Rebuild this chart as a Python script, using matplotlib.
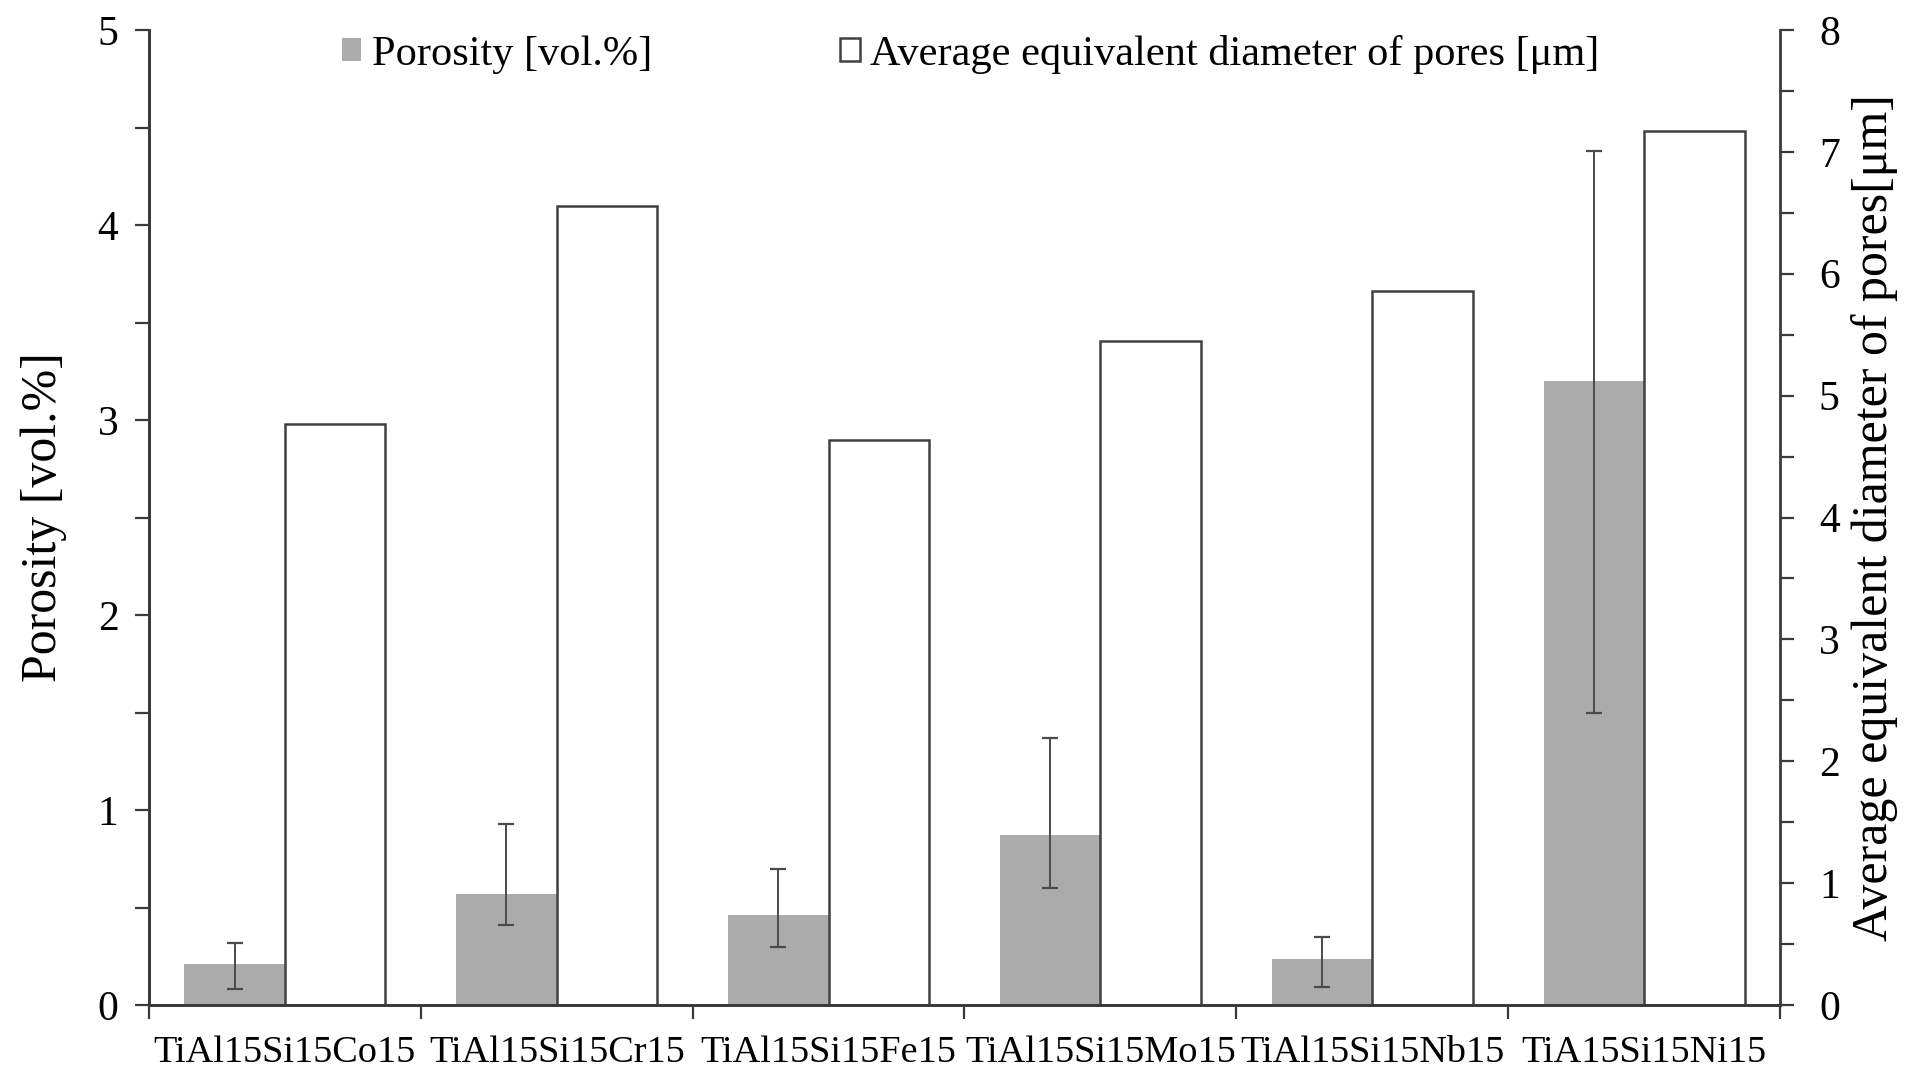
import matplotlib
matplotlib.use("Agg")
import matplotlib.pyplot as plt
from matplotlib.ticker import MultipleLocator
import numpy as np

categories = ["TiAl15Si15Co15", "TiAl15Si15Cr15", "TiAl15Si15Fe15",
              "TiAl15Si15Mo15", "TiAl15Si15Nb15", "TiA15Si15Ni15"]
porosity = [0.21, 0.57, 0.46, 0.87, 0.235, 3.20]
porosity_low = [0.08, 0.41, 0.30, 0.60, 0.09, 1.50]
porosity_high = [0.32, 0.93, 0.70, 1.37, 0.35, 4.38]
diameter = [4.77, 6.56, 4.64, 5.45, 5.86, 7.17]

plt.rcParams['font.family'] = ['Liberation Serif', 'DejaVu Serif']
plt.rcParams['mathtext.fontset'] = 'stix'

fig = plt.figure(figsize=(19.13, 10.70), dpi=100)
ax = fig.add_axes([149/1913, 1-1005/1070, (1780-149)/1913, (1005-30)/1070])
ax2 = ax.twinx()

x = np.arange(len(categories))
w = 0.37
por = np.array(porosity)
yerr = [por - np.array(porosity_low), np.array(porosity_high) - por]

gray = '#ababab'
axcol = '#3a3a3a'
b1 = ax.bar(x - w/2, porosity, width=w, color=gray, edgecolor='none', zorder=2,
            label='Porosity [vol.%]')
ax.errorbar(x - w/2, porosity, yerr=yerr, fmt='none', ecolor='#4a4a4a',
            elinewidth=1.4, capsize=6, capthick=1.6, zorder=3)
b2 = ax2.bar(x + w/2, diameter, width=w, color='white', edgecolor='#404040',
             linewidth=1.8, zorder=2, label='Average equivalent diameter of pores [μm]')

ax.set_xlim(-0.5, 5.5)
ax.set_ylim(0, 5)
ax2.set_ylim(0, 8)

ax.yaxis.set_major_locator(MultipleLocator(1))
ax.yaxis.set_minor_locator(MultipleLocator(0.5))
ax2.yaxis.set_major_locator(MultipleLocator(1))
ax2.yaxis.set_minor_locator(MultipleLocator(0.5))

bounds = np.arange(-0.5, 6.0, 1.0)
ax.set_xticks(bounds)
ax.set_xticklabels([''] * len(bounds))
ax.set_xticks(x, minor=True)
ax.set_xticklabels(categories, minor=True, fontsize=27.5)
ax.tick_params(axis='x', which='major', direction='out', length=10, width=1.6, color=axcol)
ax.tick_params(axis='x', which='minor', length=0, pad=22)

ax.tick_params(axis='y', which='both', direction='out', length=10, width=1.6,
               color=axcol, labelsize=30, pad=12)
ax2.tick_params(axis='y', which='both', direction='out', length=10, width=1.6,
                color=axcol, labelsize=30, pad=18)

for a in (ax, ax2):
    a.spines['top'].set_visible(False)
    for s in ('left', 'right', 'bottom'):
        a.spines[s].set_color(axcol)
        a.spines[s].set_linewidth(2.0)
ax.spines['right'].set_visible(False)

ax.set_ylabel('Porosity [vol.%]', fontsize=36, labelpad=22)
ax2.set_ylabel('Average equivalent diameter of pores[μm]', fontsize=36, labelpad=8)

leg = ax2.legend(handles=[b1, b2], loc='upper left', bbox_to_anchor=(0.095, 1.034),
                 ncol=2, frameon=False, fontsize=30.5, handlelength=0.45,
                 handleheight=0.45, handletextpad=0.25, columnspacing=4.45)

fig.savefig('out.png', dpi=100, facecolor='white')
